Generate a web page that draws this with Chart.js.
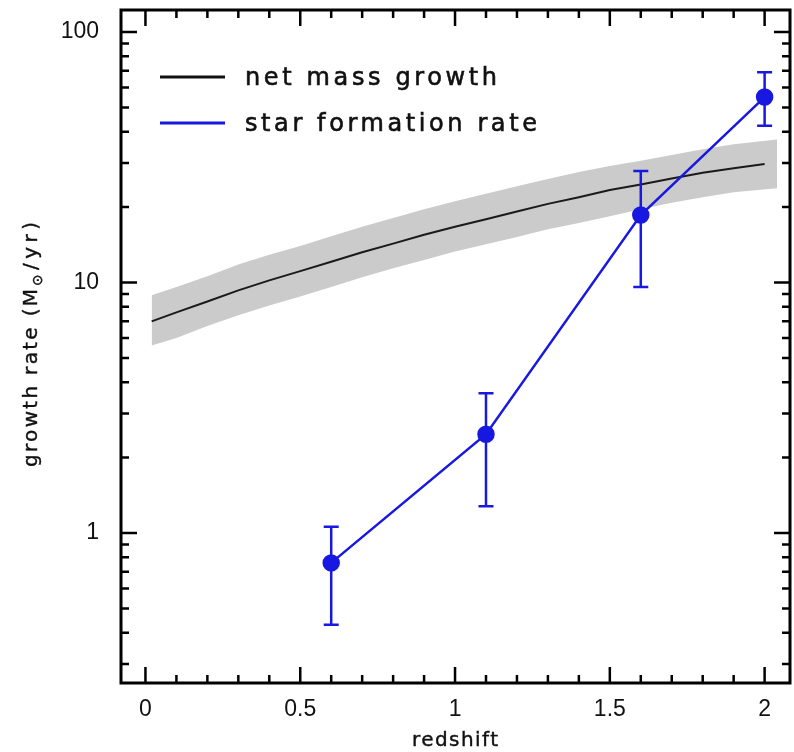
<!DOCTYPE html>
<html>
<head>
<meta charset="utf-8">
<script src="https://cdn.jsdelivr.net/npm/chart.js@4.4.1/dist/chart.umd.min.js"></script>
<style>
  html, body { margin: 0; padding: 0; background: #fff; overflow: hidden; }
  canvas { display: block; }
</style>
</head>
<body>
<canvas id="growthChart" width="800" height="752"></canvas>
<script>
// net mass growth of the halo vs. redshift, with its uncertainty band
const netZ = [0.02, 0.1, 0.2, 0.3, 0.4, 0.5, 0.6, 0.7, 0.8, 0.9, 1.0, 1.1, 1.2, 1.3, 1.4, 1.5, 1.6, 1.7, 1.8, 1.9, 2.0]
const netRate = [7.0, 7.6, 8.4, 9.3, 10.2, 11.1, 12.1, 13.2, 14.3, 15.5, 16.7, 17.9, 19.2, 20.6, 21.9, 23.4, 24.6, 26.0, 27.4, 28.6, 29.7]

const bandZ = [0.02, 0.1, 0.2, 0.3, 0.4, 0.5, 0.6, 0.7, 0.8, 0.9, 1.0, 1.1, 1.2, 1.3, 1.4, 1.5, 1.6, 1.7, 1.8, 1.9, 2.04]
const bandHigh = [8.9, 9.6, 10.6, 11.8, 12.9, 14.0, 15.3, 16.7, 18.1, 19.6, 21.1, 22.6, 24.2, 25.9, 27.6, 29.2, 30.6, 32.3, 34.0, 35.6, 37.2]
const bandLow = [5.6, 6.0, 6.7, 7.4, 8.1, 8.8, 9.6, 10.5, 11.4, 12.3, 13.3, 14.2, 15.2, 16.3, 17.3, 18.4, 19.6, 20.8, 21.9, 22.9, 23.8]

// star formation rate measurements with error bars
const sfrZ = [0.6, 1.1, 1.6, 2.0]
const sfrRate = [0.76, 2.48, 18.6, 55]
const sfrLow = [0.43, 1.28, 9.6, 42.2]
const sfrHigh = [1.06, 3.61, 27.9, 69]

const xTickLabels = [0, 0.5, 1, 1.5, 2]
const yTickLabels = [1, 10, 100]

const BLUE = '#1818e0'
const FONT = '"Liberation Sans", Arial, sans-serif'
const LABEL_FONT = '"DejaVu Sans", sans-serif'

const toPoints = (xs, ys) => xs.map((x, i) => ({ x: x, y: ys[i] }))

// stretch a label with letter spacing so it spans the given width
function spacedText(ctx, text, x, y, width, stroke) {
    ctx.letterSpacing = '0px'
    const w = ctx.measureText(text).width
    const sp = Math.max(0, (width - w) / (text.length - 1))
    ctx.letterSpacing = sp.toFixed(2) + 'px'
    ctx.fillText(text, x, y)
    if (stroke) ctx.strokeText(text, x, y)
    ctx.letterSpacing = '0px'
}

// frame with inward ticks on all four sides
const frameTicks = {
    id: 'frameTicks',
    afterDraw(chart) {
        const ctx = chart.ctx
        const { left, right, top, bottom } = chart.chartArea
        const xs = chart.scales.x
        const ys = chart.scales.y
        ctx.save()
        ctx.strokeStyle = '#000'
        ctx.lineCap = 'butt'

        ctx.lineWidth = 2.5
        for (let i = 0; i <= 20; i++) {
            const px = xs.getPixelForValue(i / 10)
            const len = i % 5 === 0 ? 16 : 8
            ctx.beginPath()
            ctx.moveTo(px, bottom)
            ctx.lineTo(px, bottom - len)
            ctx.moveTo(px, top)
            ctx.lineTo(px, top + len)
            ctx.stroke()
        }
        for (let d = -1; d <= 2; d++) {
            for (let m = 1; m <= 9; m++) {
                const v = m * Math.pow(10, d)
                if (v < ys.min || v > ys.max) continue
                const py = ys.getPixelForValue(v)
                const len = m === 1 ? 16 : 8
                ctx.beginPath()
                ctx.moveTo(left, py)
                ctx.lineTo(left + len, py)
                ctx.moveTo(right, py)
                ctx.lineTo(right - len, py)
                ctx.stroke()
            }
        }

        ctx.lineWidth = 3
        ctx.beginPath()
        ctx.moveTo(left, top)
        ctx.lineTo(left, bottom)
        ctx.lineTo(right, bottom)
        ctx.lineTo(right, top)
        ctx.closePath()
        ctx.stroke()

        // axis titles
        ctx.fillStyle = '#111'
        ctx.strokeStyle = '#111'
        ctx.lineWidth = 0.4
        ctx.font = '20px ' + LABEL_FONT
        ctx.textBaseline = 'alphabetic'
        ctx.textAlign = 'left'
        spacedText(ctx, 'redshift', 412, 746, 86, true)

        ctx.translate(37, 343)
        ctx.rotate(-Math.PI / 2)
        const parts = [['growth rate (M', 20, 0, 178], ['\u2299', 14, 5, 13], ['/yr)', 20, 0, 48]]
        let total = 0
        parts.forEach(p => { total += p[3] + 3 })
        let cx = -total / 2
        parts.forEach(p => {
            ctx.font = p[1] + 'px ' + LABEL_FONT
            spacedText(ctx, p[0], cx, p[2], p[3], true)
            cx += p[3] + 3
        })
        ctx.restore()
    }
}

// vertical error bars with caps on the star formation points
const errorBars = {
    id: 'errorBars',
    afterDatasetsDraw(chart) {
        const ctx = chart.ctx
        const xs = chart.scales.x
        const ys = chart.scales.y
        ctx.save()
        ctx.strokeStyle = BLUE
        ctx.lineWidth = 2.5
        sfrZ.forEach((z, i) => {
            const px = xs.getPixelForValue(z)
            const y1 = ys.getPixelForValue(sfrLow[i])
            const y2 = ys.getPixelForValue(sfrHigh[i])
            ctx.beginPath()
            ctx.moveTo(px, y1)
            ctx.lineTo(px, y2)
            ctx.moveTo(px - 7.5, y1)
            ctx.lineTo(px + 7.5, y1)
            ctx.moveTo(px - 7.5, y2)
            ctx.lineTo(px + 7.5, y2)
            ctx.stroke()
        })
        ctx.restore()
    }
}

// legend in the upper left corner
const plotLegend = {
    id: 'plotLegend',
    afterDraw(chart) {
        const ctx = chart.ctx
        const rows = [
            { label: 'net mass growth', color: '#111', y: 77, width: 252 },
            { label: 'star formation rate', color: BLUE, y: 123, width: 292 }
        ]
        ctx.save()
        ctx.font = '24px ' + LABEL_FONT
        ctx.textBaseline = 'alphabetic'
        ctx.textAlign = 'left'
        rows.forEach(r => {
            ctx.strokeStyle = r.color
            ctx.lineWidth = 3
            ctx.beginPath()
            ctx.moveTo(160, r.y)
            ctx.lineTo(225, r.y)
            ctx.stroke()
            ctx.fillStyle = '#111'
            ctx.strokeStyle = '#111'
            ctx.lineWidth = 0.6
            spacedText(ctx, r.label, 245, r.y + 8, r.width, true)
        })
        ctx.restore()
    }
}

new Chart(
    document.getElementById('growthChart'),
    {
        type: 'scatter',
        data: {
            datasets: [
                {
                    data: toPoints(bandZ, bandHigh),
                    showLine: true,
                    borderWidth: 0,
                    pointRadius: 0,
                    backgroundColor: '#cbcbcb',
                    fill: '+1',
                    order: 10
                },
                {
                    data: toPoints(bandZ, bandLow),
                    showLine: true,
                    borderWidth: 0,
                    pointRadius: 0,
                    fill: false,
                    order: 9
                },
                {
                    data: toPoints(netZ, netRate),
                    showLine: true,
                    borderColor: '#1a1a1a',
                    borderWidth: 2,
                    pointRadius: 0,
                    fill: false,
                    order: 5
                },
                {
                    data: toPoints(sfrZ, sfrRate),
                    showLine: true,
                    borderColor: BLUE,
                    borderWidth: 2.5,
                    pointRadius: 7.5,
                    pointBackgroundColor: BLUE,
                    pointBorderColor: BLUE,
                    fill: false,
                    order: 0
                }
            ]
        },
        options: {
            responsive: false,
            animation: false,
            devicePixelRatio: 1,
            layout: {
                padding: { top: 10, left: 0, right: 0, bottom: 0 }
            },
            scales: {
                x: {
                    type: 'linear',
                    min: -0.079,
                    max: 2.082,
                    grid: { display: false },
                    border: { display: false },
                    afterBuildTicks: s => { s.ticks = xTickLabels.map(v => ({ value: v })) },
                    afterFit: s => {
                        s.height = 69
                        s.paddingLeft = 0
                        s.paddingRight = 0
                    },
                    ticks: {
                        autoSkip: false,
                        maxRotation: 0,
                        padding: 5,
                        color: '#111',
                        font: { family: FONT, size: 23 },
                        callback: v => String(v)
                    }
                },
                y: {
                    type: 'logarithmic',
                    min: 0.252,
                    max: 122.4,
                    grid: { display: false },
                    border: { display: false },
                    afterBuildTicks: s => { s.ticks = yTickLabels.map(v => ({ value: v })) },
                    afterFit: s => {
                        s.width = 121
                        s.paddingTop = 0
                        s.paddingBottom = 0
                    },
                    ticks: {
                        autoSkip: false,
                        padding: 14,
                        color: '#111',
                        font: { family: FONT, size: 23 },
                        callback: v => String(v)
                    }
                }
            },
            plugins: {
                legend: { display: false },
                tooltip: { enabled: false }
            }
        },
        plugins: [frameTicks, errorBars, plotLegend]
    }
)
</script>
</body>
</html>
